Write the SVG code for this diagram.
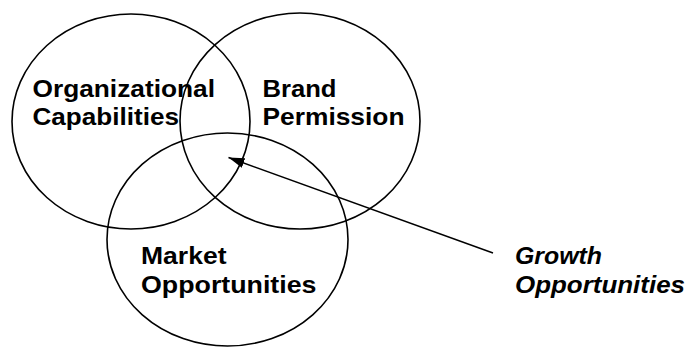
<svg xmlns="http://www.w3.org/2000/svg" width="687" height="347" viewBox="0 0 687 347">
  <style>
    .ring { fill: none; stroke: #000; stroke-width: 1.6; }
    .lbl { font-family: "Liberation Sans", Arial, sans-serif; font-size: 24.5px; font-weight: bold; fill: #000; }
    .it { font-style: italic; }
    .conn { stroke: #000; stroke-width: 1.5; fill: none; }
  </style>
  <defs>
    <marker id="head" viewBox="0 0 16 10" refX="16" refY="5" markerWidth="16" markerHeight="10" markerUnits="userSpaceOnUse" orient="auto">
      <path d="M0,0 L16,5 L0,10 Z" fill="#000"/>
    </marker>
  </defs>
  <rect width="687" height="347" fill="#fff"/>

  <g id="organizational-capabilities">
    <ellipse class="ring" cx="131" cy="121.5" rx="119" ry="107.5"/>
    <text class="lbl" x="32.5" y="97" textLength="182.5" lengthAdjust="spacingAndGlyphs">Organizational</text>
    <text class="lbl" x="32.5" y="125" textLength="146.5" lengthAdjust="spacingAndGlyphs">Capabilities</text>
  </g>

  <g id="brand-permission">
    <ellipse class="ring" cx="300" cy="121" rx="120" ry="108"/>
    <text class="lbl" x="262.5" y="97" textLength="74" lengthAdjust="spacingAndGlyphs">Brand</text>
    <text class="lbl" x="262.5" y="125" textLength="142" lengthAdjust="spacingAndGlyphs">Permission</text>
  </g>

  <g id="market-opportunities">
    <ellipse class="ring" cx="227.5" cy="239.5" rx="120.5" ry="106.5"/>
    <text class="lbl" x="141" y="264" textLength="85.5" lengthAdjust="spacingAndGlyphs">Market</text>
    <text class="lbl" x="141" y="292.5" textLength="175.5" lengthAdjust="spacingAndGlyphs">Opportunities</text>
  </g>

  <g id="growth-opportunities">
    <text class="lbl it" x="515" y="263.5" textLength="87" lengthAdjust="spacingAndGlyphs">Growth</text>
    <text class="lbl it" x="515" y="292.5" textLength="170" lengthAdjust="spacingAndGlyphs">Opportunities</text>
  </g>

  <g id="connectors">
    <line class="conn" x1="493" y1="253" x2="228.5" y2="157.5" marker-end="url(#head)"/>
  </g>
</svg>
